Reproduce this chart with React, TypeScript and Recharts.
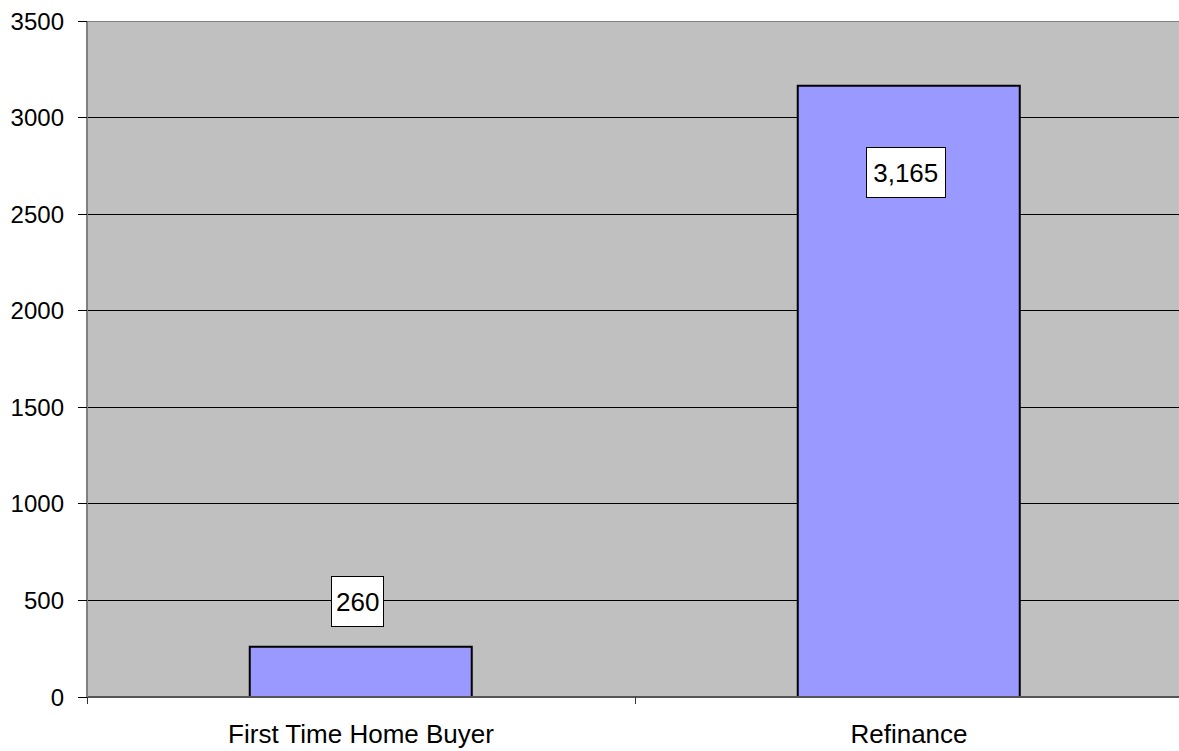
import React from 'react';
import { BarChart, Bar, XAxis, YAxis, CartesianGrid, LabelList } from 'recharts';

// 카테고리와 값
const categories = ['First Time Home Buyer', 'Refinance'];
const loanCounts = [260, 3165];
const yTicks = [0, 500, 1000, 1500, 2000, 2500, 3000, 3500];

const data = categories.map((name, i) => ({ name, value: loanCounts[i] }));

const CHART_W = 1183;
const CHART_H = 751;
const Y_AXIS_W = 87;
const TOP = 21;
const FONT = '"Liberation Sans", Arial, sans-serif';
const BAND = (CHART_W - Y_AXIS_W) / categories.length;

// x축 라벨 + 카테고리 경계 눈금
function XTick(props: any) {
  const { x, y, payload } = props;
  return (
    <g>
      <line x1={x - BAND / 2} x2={x - BAND / 2} y1={y} y2={y + 7} stroke="#333" strokeWidth={1} shapeRendering="crispEdges" />
      <text x={x} y={y + 46} textAnchor="middle" fontSize={26} fontFamily={FONT} fill="#000">
        {payload.value}
      </text>
    </g>
  );
}

// 값 라벨 (흰색 박스)
function ValueLabel(props: any) {
  const { x, y, width, value } = props;
  const text = Number(value).toLocaleString('en-US');
  const boxW = text.length * 13.9 + 10;
  const boxH = 50;
  const cx = x + width / 2 - 3;
  // 위쪽에 공간이 없으면 막대 안쪽에 표시
  let cy = y - 45;
  if (cy - boxH / 2 < TOP + 10) cy = y + 87;
  return (
    <g>
      <rect x={cx - boxW / 2} y={cy - boxH / 2} width={boxW} height={boxH} fill="#fff" stroke="#000" strokeWidth={1} shapeRendering="crispEdges" />
      <text x={cx} y={cy + 9} textAnchor="middle" fontSize={26} fontFamily={FONT} fill="#000">
        {text}
      </text>
    </g>
  );
}

function GridLine(props: any) {
  const { x1, x2, y1, y2 } = props;
  const isTop = Math.abs(y1 - TOP) < 1;
  return (
    <line x1={x1} x2={x2} y1={y1} y2={y2} stroke={isTop ? '#808080' : '#000'} strokeWidth={1} shapeRendering="crispEdges" />
  );
}

export default function App() {
  return (
    <div style={{ position: 'absolute', left: 0, top: 0, width: 1179, height: CHART_H, overflow: 'hidden', background: '#fff' }}>
      <BarChart
        width={CHART_W}
        height={CHART_H}
        data={data}
        margin={{ top: TOP, right: 0, bottom: 0, left: 0 }}
        barCategoryGap="29.7%"
      >
        <CartesianGrid
          vertical={false}
          fill="#C0C0C0"
          fillOpacity={1}
          horizontal={(p: any) => <GridLine key={`g-${p.y1}`} {...p} />}
        />
        <XAxis
          dataKey="name"
          height={54}
          tickLine={false}
          tickSize={0}
          tickMargin={0}
          axisLine={{ stroke: '#555', strokeWidth: 2 }}
          tick={<XTick />}
          interval={0}
        />
        <YAxis
          width={Y_AXIS_W}
          domain={[0, 3500]}
          ticks={yTicks}
          interval={0}
          tickSize={9}
          tickMargin={14}
          axisLine={{ stroke: '#808080', strokeWidth: 2 }}
          tickLine={{ stroke: '#000', shapeRendering: 'crispEdges' }}
          tick={{ fontSize: 24, fontFamily: FONT, fill: '#000' }}
        />
        <Bar dataKey="value" fill="#9999FF" stroke="#000" strokeWidth={2} isAnimationActive={false}>
          <LabelList dataKey="value" content={<ValueLabel />} />
        </Bar>
      </BarChart>
    </div>
  );
}
